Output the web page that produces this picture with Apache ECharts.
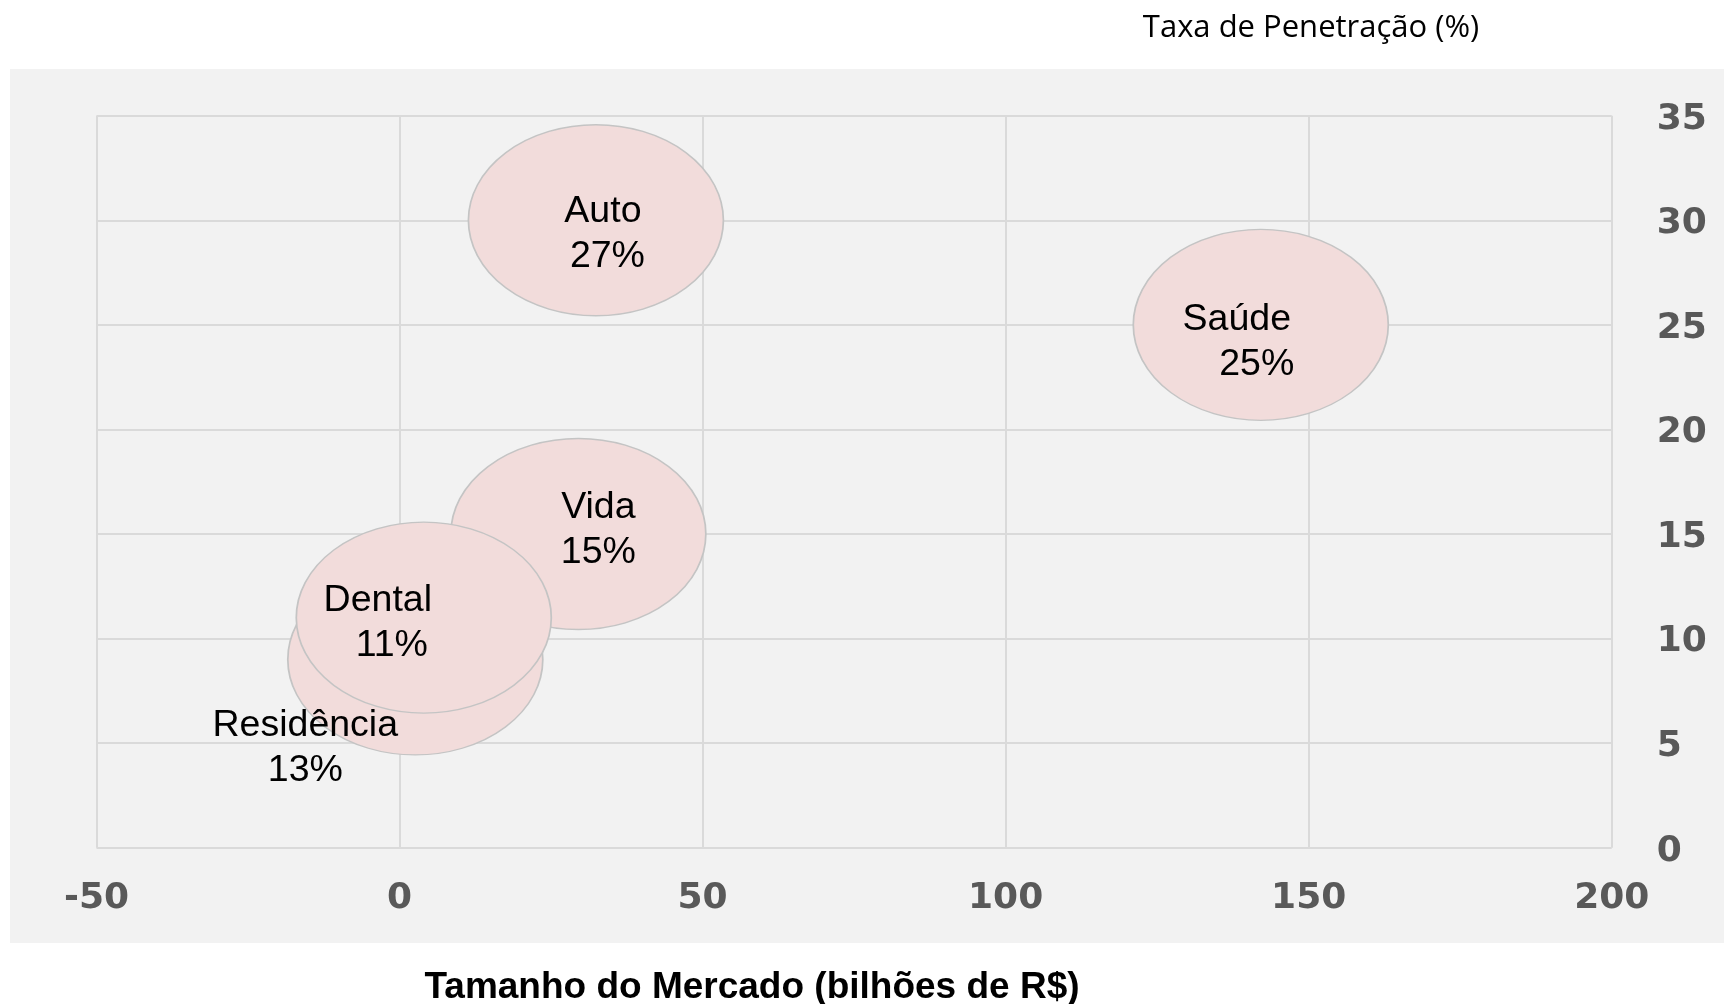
<!DOCTYPE html>
<html>
<head>
<meta charset="utf-8">
<script src="https://cdn.jsdelivr.net/npm/echarts@6/dist/echarts.min.js"></script>
<style>
  html, body { margin: 0; padding: 0; background: #ffffff; }
  #chart { width: 1724px; height: 1004px; }
</style>
</head>
<body>
<div id="chart"></div>
<script>
// ---- Data ----
const categories  = ['Auto', 'Saúde', 'Residência', 'Vida', 'Dental'];
const marketSize  = [32.4, 142.1, 2.6, 29.5, 4.0];   // Tamanho do Mercado (bilhões de R$)
const penetration = [30, 25, 9, 15, 11];             // Taxa de Penetração (%)
const labelPct    = [27, 25, 13, 15, 11];            // percentage shown in the label
const xTickLabels = ['-50', '0', '50', '100', '150', '200'];
const yTickLabels = ['0', '5', '10', '15', '20', '25', '30', '35'];

// ---- Label placement tweaks (styling only) ----
const labelLayout = {
  'Auto':       { dx: 7,    dy: 14, pad: 9 },
  'Saúde':      { dx: -24,  dy: 17, pad: 40 },
  'Residência': { dx: -110, dy: 89, pad: 0 },
  'Vida':       { dx: 20,   dy: -4, pad: 0 },
  'Dental':     { dx: -46,  dy: 6,  pad: 28 }
};

const ellipsePath = 'path://M0,50A50,50,0,1,1,100,50A50,50,0,1,1,0,50Z';
const labelFont = '"Liberation Sans", Arial, sans-serif';
const tickFont = '"DejaVu Sans", Verdana, sans-serif';

const seriesData = categories.map((name, i) => {
  const lt = labelLayout[name];
  return {
    name: name,
    value: [marketSize[i], penetration[i], labelPct[i]],
    label: {
      offset: [lt.dx, lt.dy],
      rich: {
        n: { fontSize: 37.5, lineHeight: 45, fontFamily: labelFont, color: '#000', align: 'center' },
        v: { fontSize: 37.5, lineHeight: 45, fontFamily: labelFont, color: '#000', align: 'center', padding: [0, 0, 0, lt.pad] }
      }
    }
  };
});

const chart = echarts.init(document.getElementById('chart'), null, { renderer: 'canvas' });

const option = {
  backgroundColor: '#ffffff',
  animation: false,
  graphic: [
    {
      type: 'rect', z: -100, silent: true,
      shape: { x: 10, y: 69, width: 1714, height: 874 },
      style: { fill: '#F2F2F2' }
    },
    {
      type: 'text', z: 10, silent: true,
      x: 1311, y: 28,
      style: {
        text: 'Taxa de Penetração (%)',
        fontSize: 31, fontFamily: '"Open Sans", sans-serif',
        fill: '#000', align: 'center', verticalAlign: 'middle'
      }
    },
    {
      type: 'text', z: 10, silent: true,
      x: 752, y: 988,
      style: {
        text: 'Tamanho do Mercado (bilhões de R$)',
        fontSize: 37, fontWeight: 'bold', fontFamily: labelFont,
        fill: '#000', align: 'center', verticalAlign: 'middle'
      }
    }
  ],
  grid: { left: 96.5, right: 112.3, top: 115.7, bottom: 156.3, containLabel: false },
  xAxis: {
    type: 'value', min: -50, max: 200, interval: 50,
    axisLine: { show: false }, axisTick: { show: false },
    splitLine: { show: true, showMinLine: true, showMaxLine: true, lineStyle: { color: '#DADADA', width: 2 } },
    axisLabel: {
      margin: 33, fontSize: 36, fontWeight: 'bold', color: '#595959',
      fontFamily: tickFont,
      formatter: v => xTickLabels[Math.round((v + 50) / 50)] ?? String(v)
    }
  },
  yAxis: {
    type: 'value', position: 'right', min: 0, max: 35, interval: 5,
    axisLine: { show: false }, axisTick: { show: false },
    splitLine: { show: true, showMinLine: true, showMaxLine: true, lineStyle: { color: '#DADADA', width: 2 } },
    axisLabel: {
      margin: 45,
      formatter: v => '{t|' + (yTickLabels[Math.round(v / 5)] ?? String(v)) + '}',
      rich: {
        t: { fontSize: 36, fontWeight: 'bold', color: '#595959', fontFamily: tickFont, padding: [7, 0, 0, 0] }
      }
    }
  },
  series: [{
    type: 'scatter',
    symbol: ellipsePath,
    symbolSize: [255, 191],
    symbolKeepAspect: false,
    itemStyle: { color: '#F2DCDB', borderColor: '#C4C4C4', borderWidth: 1.5, opacity: 1 },
    label: {
      show: true, position: 'inside',
      formatter: p => '{n|' + p.data.name + '}\n{v|' + p.data.value[2] + '%}'
    },
    emphasis: { disabled: true },
    data: seriesData
  }]
};

chart.setOption(option);
</script>
</body>
</html>
